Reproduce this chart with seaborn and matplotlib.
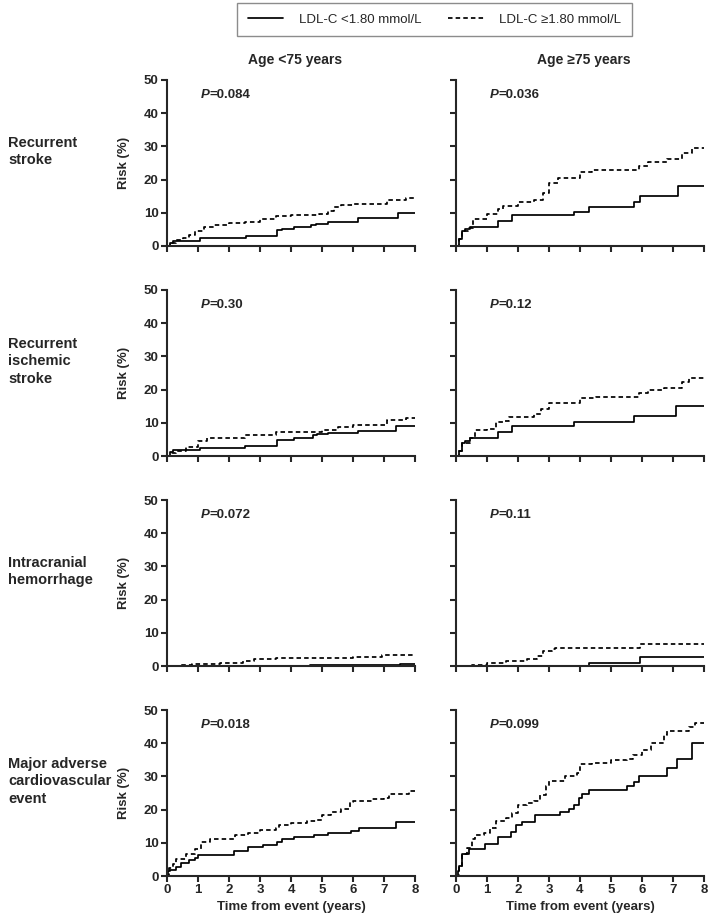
import pandas as pd
import seaborn as sns
import matplotlib.pyplot as plt
from matplotlib.lines import Line2D

# ---- data (cumulative risk, %) ----
years = [0, 1, 2, 3, 4, 5, 6, 7, 8]
risk_ticks = [0, 10, 20, 30, 40, 50]
age_groups = ["Age <75 years", "Age \u226575 years"]
outcomes = ["Recurrent\nstroke", "Recurrent\nischemic\nstroke",
            "Intracranial\nhemorrhage", "Major adverse\ncardiovascular\nevent"]
legend_labels = ["LDL-C <1.80 mmol/L", "LDL-C \u22651.80 mmol/L"]
p_values = ["0.084", "0.036", "0.30", "0.12", "0.072", "0.11", "0.018", "0.099"]

# recurrent stroke
stroke_lt75_low_t = [0, 0.1, 0.2, 1.05, 2.55, 3.55, 3.7, 4.1, 4.65, 4.8, 5.2, 6.15, 7.45, 8]
stroke_lt75_low_r = [0, 1.0, 1.6, 2.3, 3.1, 4.8, 5.0, 5.6, 6.3, 6.7, 7.3, 8.3, 9.8, 9.8]
stroke_lt75_high_t = [0, 0.1, 0.3, 0.5, 0.7, 0.9, 1.2, 1.5, 2.0, 2.5, 3.0, 3.5, 4.0, 4.9, 5.2, 5.4, 5.6, 6.0, 7.1, 7.7, 8]
stroke_lt75_high_r = [0, 0.8, 1.8, 2.5, 3.2, 4.4, 5.6, 6.2, 6.8, 7.3, 8.0, 8.9, 9.3, 9.5, 10.5, 11.7, 12.4, 12.6, 14.0, 14.6, 14.6]
stroke_ge75_low_t = [0, 0.1, 0.2, 0.3, 0.45, 1.35, 1.8, 3.8, 4.3, 5.75, 5.95, 7.15, 8]
stroke_ge75_low_r = [0, 2.0, 4.5, 5.0, 5.6, 7.6, 9.3, 10.3, 11.6, 13.3, 15.0, 18.2, 18.2]
stroke_ge75_high_t = [0, 0.1, 0.2, 0.4, 0.55, 1.0, 1.35, 1.5, 2.0, 2.5, 2.8, 3.0, 3.3, 4.0, 4.4, 5.9, 6.2, 6.8, 7.3, 7.6, 8]
stroke_ge75_high_r = [0, 2.0, 4.5, 5.5, 8.0, 9.5, 11.0, 12.0, 13.2, 14.0, 16.0, 19.0, 20.5, 22.2, 22.8, 24.0, 25.3, 26.3, 28.0, 29.6, 29.6]

# recurrent ischemic stroke
ischemic_lt75_low_t = [0, 0.1, 0.2, 1.05, 2.5, 3.55, 3.7, 4.1, 4.7, 4.85, 5.2, 6.15, 7.4, 8]
ischemic_lt75_low_r = [0, 1.2, 1.7, 2.4, 3.0, 4.8, 4.9, 5.3, 6.2, 6.6, 7.0, 7.5, 9.0, 9.0]
ischemic_lt75_high_t = [0, 0.15, 0.3, 0.6, 1.0, 1.3, 2.0, 2.5, 3.5, 5.0, 5.5, 6.0, 7.1, 7.7, 8]
ischemic_lt75_high_r = [0, 0.8, 1.5, 2.8, 4.5, 5.4, 5.5, 6.2, 7.1, 7.9, 8.8, 9.3, 10.9, 11.5, 11.5]
ischemic_ge75_low_t = [0, 0.1, 0.2, 0.3, 0.45, 1.35, 1.8, 3.8, 5.75, 7.1, 8]
ischemic_ge75_low_r = [0, 1.5, 4.0, 4.6, 5.4, 7.1, 9.1, 10.2, 11.9, 15.2, 15.2]
ischemic_ge75_high_t = [0, 0.1, 0.2, 0.45, 0.6, 1.0, 1.3, 1.5, 1.7, 2.5, 2.75, 3.0, 4.0, 4.5, 5.9, 6.2, 6.7, 7.3, 7.5, 8]
ischemic_ge75_high_r = [0, 1.5, 4.0, 5.5, 7.9, 8.2, 10.1, 10.4, 11.6, 12.5, 14.2, 16.0, 17.6, 17.8, 18.9, 19.8, 20.4, 22.2, 23.5, 23.5]

# intracranial hemorrhage
ich_lt75_low_t = [0, 4.6, 7.5, 8]
ich_lt75_low_r = [0, 0.4, 0.7, 0.7]
ich_lt75_high_t = [0, 0.4, 0.8, 1.7, 2.45, 2.8, 3.5, 4.5, 6.0, 6.95, 8]
ich_lt75_high_r = [0, 0.3, 0.6, 0.9, 1.6, 2.2, 2.4, 2.5, 2.7, 3.2, 3.2]
ich_ge75_low_t = [0, 4.3, 5.95, 8]
ich_ge75_low_r = [0, 1.0, 2.8, 2.8]
ich_ge75_high_t = [0, 0.5, 1.0, 1.6, 2.3, 2.6, 2.8, 3.1, 3.2, 5.95, 8]
ich_ge75_high_r = [0, 0.3, 0.8, 1.5, 2.0, 3.0, 4.5, 5.0, 5.3, 6.5, 6.5]

# major adverse cardiovascular event
mace_lt75_low_t = [0, 0.02, 0.1, 0.3, 0.45, 0.7, 0.9, 1.0, 2.15, 2.6, 3.1, 3.55, 3.7, 4.1, 4.75, 5.2, 5.95, 6.2, 7.4, 8]
mace_lt75_low_r = [0, 1.5, 1.8, 2.8, 3.8, 4.8, 5.5, 6.4, 7.6, 8.7, 9.2, 10.3, 11.2, 11.8, 12.3, 12.9, 13.6, 14.6, 16.4, 16.4]
mace_lt75_high_t = [0, 0.05, 0.2, 0.3, 0.6, 0.9, 1.1, 1.4, 2.2, 2.6, 3.0, 3.5, 3.6, 4.0, 4.5, 4.8, 5.0, 5.3, 5.6, 5.9, 6.0, 6.6, 7.0, 7.15, 7.8, 8]
mace_lt75_high_r = [0, 2.5, 3.5, 5.2, 6.5, 8.0, 10.3, 11.2, 12.4, 13.0, 13.8, 14.6, 15.5, 16.0, 16.5, 17.0, 18.3, 19.3, 20.1, 22.2, 22.7, 23.2, 23.5, 24.8, 25.7, 25.7]
mace_ge75_low_t = [0, 0.05, 0.1, 0.2, 0.43, 0.95, 1.36, 1.79, 1.92, 2.13, 2.56, 3.37, 3.64, 3.8, 3.96, 4.07, 4.28, 5.52, 5.74, 5.9, 6.81, 7.14, 7.62, 8]
mace_ge75_low_r = [0, 1.5, 3.0, 6.5, 8.0, 9.5, 11.7, 13.4, 15.3, 16.3, 18.3, 19.3, 20.3, 21.5, 23.6, 24.8, 26.0, 27.0, 28.2, 30.0, 32.4, 35.1, 40.0, 40.0]
mace_ge75_high_t = [0, 0.1, 0.2, 0.35, 0.5, 0.6, 0.9, 1.1, 1.3, 1.6, 1.8, 2.0, 2.3, 2.5, 2.7, 2.9, 3.0, 3.5, 3.9, 4.0, 4.4, 5.0, 5.5, 5.7, 6.0, 6.3, 6.7, 6.8, 7.5, 7.7, 8]
mace_ge75_high_r = [0, 3.0, 6.5, 8.5, 11.0, 12.3, 13.0, 14.5, 16.5, 17.5, 19.0, 21.5, 22.0, 22.5, 24.5, 27.0, 28.5, 30.2, 31.0, 33.6, 34.0, 34.8, 35.3, 36.5, 38.0, 40.0, 42.5, 43.6, 44.9, 46.0, 46.0]

panels = [
    (stroke_lt75_low_t, stroke_lt75_low_r, stroke_lt75_high_t, stroke_lt75_high_r),
    (stroke_ge75_low_t, stroke_ge75_low_r, stroke_ge75_high_t, stroke_ge75_high_r),
    (ischemic_lt75_low_t, ischemic_lt75_low_r, ischemic_lt75_high_t, ischemic_lt75_high_r),
    (ischemic_ge75_low_t, ischemic_ge75_low_r, ischemic_ge75_high_t, ischemic_ge75_high_r),
    (ich_lt75_low_t, ich_lt75_low_r, ich_lt75_high_t, ich_lt75_high_r),
    (ich_ge75_low_t, ich_ge75_low_r, ich_ge75_high_t, ich_ge75_high_r),
    (mace_lt75_low_t, mace_lt75_low_r, mace_lt75_high_t, mace_lt75_high_r),
    (mace_ge75_low_t, mace_ge75_low_r, mace_ge75_high_t, mace_ge75_high_r),
]

sns.set_theme(style="ticks")
plt.rcParams["font.family"] = ["Liberation Sans", "DejaVu Sans"]
plt.rcParams["axes.linewidth"] = 1.5

W, H = 709, 922
fig = plt.figure(figsize=(W / 100, H / 100), dpi=100)

col_left = [167, 456]
col_width = 248
row_top = [80, 290, 500, 710]
row_height = 166

line_dashes = {"low": "", "high": (2.6, 1.8)}

for i, (lt, lr, ht, hr) in enumerate(panels):
    row, col = divmod(i, 2)
    x0 = col_left[col] / W
    y0 = 1 - (row_top[row] + row_height) / H
    ax = fig.add_axes([x0, y0, col_width / W, row_height / H])

    df = pd.concat([
        pd.DataFrame({"time": lt, "risk": lr, "ldl": "low"}),
        pd.DataFrame({"time": ht, "risk": hr, "ldl": "high"}),
    ])
    sns.lineplot(data=df, x="time", y="risk", style="ldl", dashes=line_dashes,
                 color="black", linewidth=1.25, drawstyle="steps-post",
                 estimator=None, sort=False, legend=False, ax=ax)

    ax.set_xlim(0, 8)
    ax.set_ylim(0, 50)
    ax.set_xticks(years)
    ax.set_yticks(risk_ticks)
    sns.despine(ax=ax)
    ax.tick_params(direction="out", length=4, width=1.5, labelsize=9.5, pad=2)
    for lab in ax.get_xticklabels() + ax.get_yticklabels():
        lab.set_fontweight("bold")
    ax.set_xlabel("")
    ax.set_ylabel("")
    if row < 3:
        ax.tick_params(labelbottom=False)
    else:
        ax.set_xlabel("Time from event (years)", fontsize=9.5, fontweight="bold", labelpad=3)
    if col == 1:
        ax.tick_params(labelleft=False)
    else:
        ax.set_ylabel("Risk (%)", fontsize=9.5, fontweight="bold")
        ax.yaxis.set_label_coords(-0.15, 0.5)

    # P value with italic P
    tp = ax.text(1.1, 45.5, "P", fontsize=9.5, fontweight="bold", style="italic",
                 ha="left", va="center")
    ax.annotate("=" + p_values[i], xy=(1, 0), xycoords=tp, fontsize=9.5,
                fontweight="bold", ha="left", va="bottom")

# column titles
for col, title in enumerate(age_groups):
    fig.text((col_left[col] + col_width / 2 + 4) / W, 1 - 60 / H, title,
             ha="center", va="center", fontsize=10, fontweight="bold")

# row labels
for row, label in enumerate(outcomes):
    yc = row_top[row] + 0.43 * row_height
    fig.text(8 / W, 1 - yc / H, label, ha="left", va="center",
             fontsize=10.5, fontweight="bold", linespacing=1.3)

handles = [Line2D([], [], color="black", lw=1.25),
           Line2D([], [], color="black", lw=1.25, dashes=(2.6, 1.8))]
leg = fig.legend(handles, legend_labels, loc="center", ncol=2,
                 bbox_to_anchor=(434.5 / W, 1 - 19.5 / H),
                 frameon=True, fancybox=False, edgecolor="#707070",
                 fontsize=9.5, handlelength=2.7, handletextpad=1.2,
                 borderpad=0.8, borderaxespad=0, columnspacing=2.0)
leg.get_frame().set_linewidth(1.0)

plt.savefig("out.png", dpi=100)
